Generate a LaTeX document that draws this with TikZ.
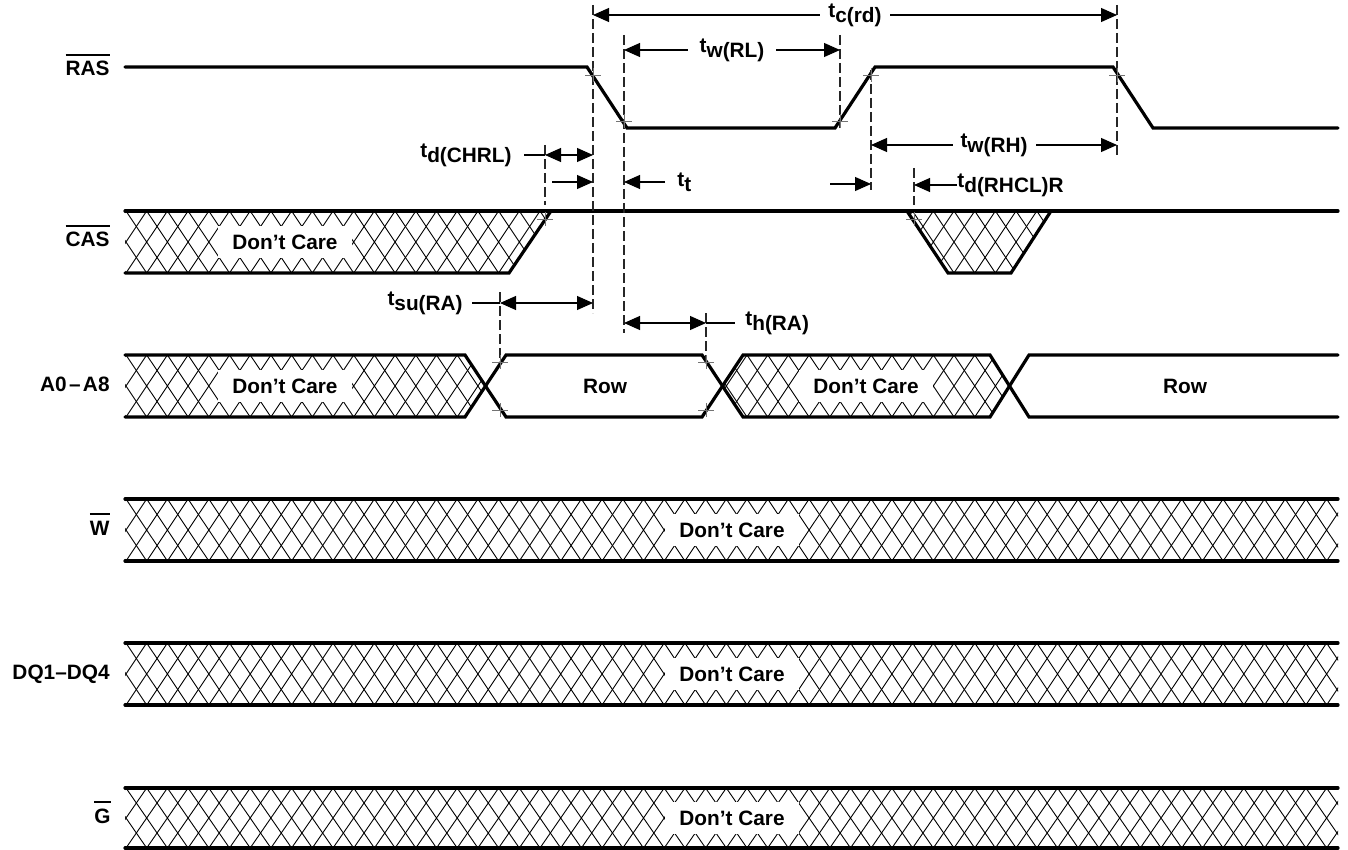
\documentclass[tikz,border=0pt]{standalone}
\usepackage{fontspec}
\setmainfont{Liberation Sans}
\usepackage{tikz}
\usetikzlibrary{
	positioning,  % labels next to the leader ends
	arrows.meta,  % Triangle tips
	calc          % offsets for the small crosses
}

\tikzset{
	sig/.style={line width=1.6pt, line join=miter, line cap=round},
	guide/.style={line width=0.55pt, black!85, dash pattern=on 5pt off 2pt},
	dim/.style={line width=0.55pt},
	hatchline/.style={line width=0.45pt},
	dcbox/.style={fill=white, inner sep=0pt, minimum width=67pt, minimum height=16pt},
	signame/.style={anchor=base east, inner sep=0pt},
	tlabel/.style={inner sep=0pt},
	xmark/.style={line width=0.45pt, black!55}
}

% "t" with lowered subscript
\newcommand{\tsub}[1]{t\raisebox{-2.6pt}{#1}}
% overlined signal name
\newcommand{\ovl}[1]{\vbox{\hrule height 1.2pt\kern 2.6pt\hbox{#1}}}
% diamond hatch for one row (crossings at mid height on x = 126 + 20.7k)
\newcommand{\hatchrow}[2]{%
	\foreach \k in {-1,...,60}{
		\draw[hatchline] ({105.3+20.7*\k},#1) -- ({146.7+20.7*\k},#2)
		({146.7+20.7*\k},#1) -- ({105.3+20.7*\k},#2);
	}}
% small cross on a transition
\newcommand{\tcross}[1]{\draw[xmark] ($(#1)+(-8,0)$) -- ($(#1)+(8,0)$) ($(#1)+(0,-7)$) -- ($(#1)+(0,7)$);}

\begin{document}
\begin{tikzpicture}[x=0.5pt, y=-0.5pt, >={Triangle[length=8pt,width=7pt]},
	font=\fontsize{10.4}{12}\selectfont\bfseries]
	\useasboundingbox (0,0) rectangle (1348,850);
	
	% --- Signal names ---
	\node[signame] (n-ras) at (110,76)  {\ovl{RAS}};
	\node[signame] (n-cas) at (110,247) {\ovl{CAS}};
	\node[signame] (n-adr) at (110,391) {A0\kern1.2pt–\kern1.2pt A8};
	\node[signame] (n-w)   at (110,535) {\ovl{W}};
	\node[signame] (n-dq)  at (110,679) {DQ1–DQ4};
	\node[signame] (n-g)   at (111,823) {\ovl{G}};
	
	% --- RAS ---
	\draw[sig] (125,67) -- (587,67) -- (627,128) -- (835,128) -- (875,67)
	-- (1113,67) -- (1153,128) -- (1338,128);
	
	% --- CAS ---
	\begin{scope}
		\clip (125,211) -- (551,211) -- (509,273) -- (125,273) -- cycle;
		\hatchrow{211}{273}
	\end{scope}
	\begin{scope}
		\clip (907,211) -- (1051,211) -- (1011,273) -- (948,273) -- cycle;
		\hatchrow{211}{273}
	\end{scope}
	\node[dcbox] (cas-dc) at (285,242) {Don’t Care};
	\draw[sig] (125,211) -- (1338,211);
	\draw[sig] (125,273) -- (509,273) -- (551,211);
	\draw[sig] (907,211) -- (948,273) -- (1011,273) -- (1051,211);
	
	% --- A0-A8 ---
	\begin{scope}
		\clip (125,355) -- (465,355) -- (485.5,386) -- (465,417) -- (125,417) -- cycle;
		\hatchrow{355}{417}
	\end{scope}
	\begin{scope}
		\clip (722.5,386) -- (743,355) -- (990,355) -- (1009.5,386) -- (990,417) -- (743,417) -- cycle;
		\hatchrow{355}{417}
	\end{scope}
	\node[dcbox] (adr-dc1) at (285,386) {Don’t Care};
	\node[dcbox] (adr-dc2) at (866,386) {Don’t Care};
	\node (adr-row1) at (605,386) {Row};
	\node (adr-row2) at (1185,386) {Row};
	\draw[sig] (125,355) -- (465,355) -- (506,417) -- (702,417) -- (743,355)
	-- (990,355) -- (1029,417) -- (1338,417);
	\draw[sig] (125,417) -- (465,417) -- (506,355) -- (702,355) -- (743,417)
	-- (990,417) -- (1029,355) -- (1338,355);
	
	% --- W, DQ, G: don't care all the way ---
	\foreach \yt/\yb/\nm in {499/561/w, 643/705/dq, 788/848/g}{
		\begin{scope}
			\clip (125,\yt) rectangle (1338,\yb);
			\hatchrow{\yt}{\yb}
		\end{scope}
		\node[dcbox] (\nm-dc) at (732,{(\yt+\yb)/2}) {Don’t Care};
		\draw[sig] (125,\yt) -- (1338,\yt);
		\draw[sig] (125,\yb) -- (1338,\yb);
	}
	
	% --- Guide lines ---
	\draw[guide] (593,5) -- (593,313);
	\draw[guide] (624,35) -- (624,333);
	\draw[guide] (840,35) -- (840,128);
	\draw[guide] (871,70) -- (871,190);
	\draw[guide] (1117,5) -- (1117,155);
	\draw[guide] (545,145) -- (545,205);
	\draw[guide] (500,292) -- (500,360);
	\draw[guide] (706,313) -- (706,362);
	\draw[guide] (914,168) -- (914,205);
	
	% --- Timing arrows ---
	% t_c(rd)
	\coordinate (tc-a) at (593,15);
	\coordinate (tc-b) at (1117,15);
	\draw[dim,<->] (tc-a) -- (tc-b)
	node[pos=0.5, fill=white, inner xsep=4pt, inner ysep=0pt] (tc) {\tsub{c(rd)}};
	% t_w(RL)
	\coordinate (wl-a) at (624,50);
	\coordinate (wl-b) at (840,50);
	\draw[dim,<->] (wl-a) -- (wl-b)
	node[pos=0.5, fill=white, inner xsep=6pt, inner ysep=0pt] (wl) {\tsub{w(RL)}};
	% t_w(RH)
	\coordinate (wh-a) at (871,145);
	\coordinate (wh-b) at (1117,145);
	\draw[dim,<->] (wh-a) -- (wh-b)
	node[pos=0.5, fill=white, inner xsep=4pt, inner ysep=0pt] (wh) {\tsub{w(RH)}};
	% t_d(CHRL)
	\coordinate (chrl-t) at (524,155);
	\coordinate (chrl-a) at (545,155);
	\coordinate (chrl-b) at (593,155);
	\node[tlabel, left=6pt of chrl-t] (chrl) {\tsub{d(CHRL)}};
	\draw[dim] (chrl-t) -- (chrl-a);
	\draw[dim,<->] (chrl-a) -- (chrl-b);
	% t_t
	\coordinate (tt1-a) at (552,182);
	\coordinate (tt1-b) at (593,182);
	\draw[dim,->] (tt1-a) -- (tt1-b);
	\coordinate (tt2-t) at (665,182);
	\coordinate (tt2-b) at (624,182);
	\draw[dim,->] (tt2-t) -- (tt2-b);
	\node[tlabel, right=6pt of tt2-t] (tt) {\tsub{t}};
	\coordinate (tt3-a) at (830,184);
	\coordinate (tt3-b) at (871,184);
	\draw[dim,->] (tt3-a) -- (tt3-b);
	% t_d(RHCL)R
	\coordinate (rhcl-t) at (957,185);
	\coordinate (rhcl-b) at (914,185);
	\draw[dim,->] (rhcl-t) -- (rhcl-b);
	\node[tlabel, right=0pt of rhcl-t] (rhcl) {\tsub{d(RHCL)R}};
	% t_su(RA)
	\coordinate (su-t) at (472,303);
	\coordinate (su-a) at (500,303);
	\coordinate (su-b) at (593,303);
	\node[tlabel, left=4.5pt of su-t] (su) {\tsub{su(RA)}};
	\draw[dim] (su-t) -- (su-a);
	\draw[dim,<->] (su-a) -- (su-b);
	% t_h(RA)
	\coordinate (h-a) at (624,323);
	\coordinate (h-b) at (706,323);
	\coordinate (h-t) at (735,323);
	\draw[dim,<->] (h-a) -- (h-b);
	\draw[dim] (h-b) -- (h-t);
	\node[tlabel, right=5pt of h-t] (h) {\tsub{h(RA)}};
	
	% --- Reference crosses ---
	\tcross{593,75}
	\tcross{624,121}
	\tcross{840,121}
	\tcross{871,75}
	\tcross{1117,75}
	\tcross{545,219}
	\tcross{914,219}
	\tcross{500,362}
	\tcross{500,410}
	\tcross{706,362}
	\tcross{706,410}
\end{tikzpicture}
\end{document}
